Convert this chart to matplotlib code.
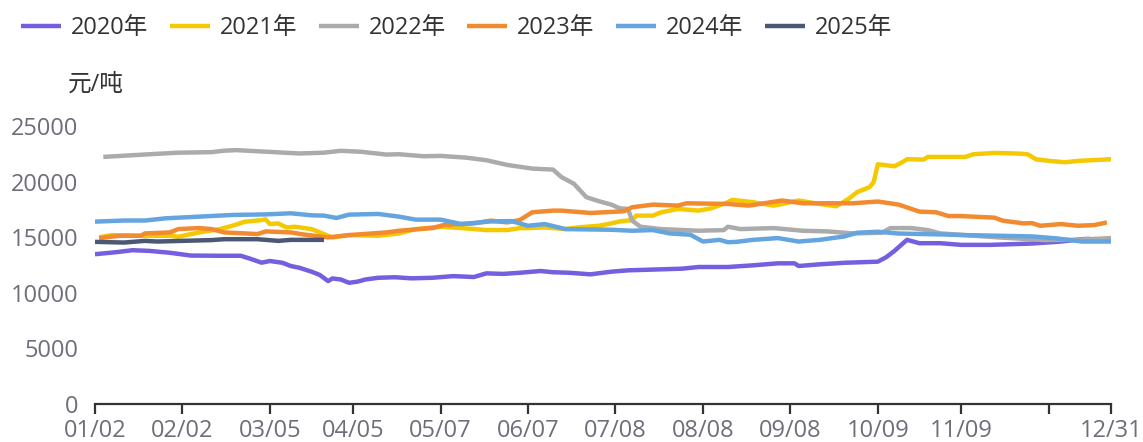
import matplotlib
matplotlib.use("Agg")
import matplotlib.pyplot as plt

plt.rcParams['font.family'] = ['Open Sans', 'Noto Sans CJK SC', 'DejaVu Sans']

# x = trading-day index within the year, y = price (元/吨)
x_2020 = [0, 5, 9, 13, 18, 23, 30, 35, 37, 40, 42, 45, 47, 49, 52, 54, 56, 57, 59, 61, 63, 65, 68, 72, 76,
          81, 86, 91, 94, 98, 102, 107, 110, 114, 119, 124, 128, 135, 141, 145, 152, 158, 164, 168, 169, 174,
          180, 188, 190, 192, 195, 198, 203, 208, 215, 225, 232, 237, 239]
y_2020 = [13470, 13650, 13830, 13770, 13600, 13350, 13330, 13330, 13100, 12710, 12860, 12700, 12410, 12260,
          11900, 11600, 11050, 11290, 11200, 10900, 11000, 11200, 11350, 11400, 11300, 11350, 11500, 11420,
          11750, 11700, 11800, 11960, 11850, 11800, 11660, 11900, 12020, 12100, 12170, 12320, 12320, 12470,
          12650, 12650, 12410, 12560, 12700, 12800, 13200, 13770, 14760, 14460, 14460, 14310, 14310, 14430,
          14610, 14820, 14850]

x_2021 = [1, 4, 11, 18, 20, 25, 30, 33, 36, 40, 41, 42, 44, 46, 48, 52, 55, 57, 61, 68, 73, 77, 83, 88, 94,
          99, 102, 104, 108, 113, 116, 121, 124, 126, 129, 130, 134, 136, 140, 145, 148, 152, 153, 158, 163,
          169, 173, 178, 181, 183, 186, 187, 188, 192, 194, 195, 199, 200, 209, 211, 216, 222, 224, 226, 230,
          233, 236, 244]
y_2021 = [14980, 15190, 15130, 15130, 15040, 15430, 15730, 16030, 16390, 16540, 16600, 16180, 16240, 15880,
          15940, 15730, 15280, 14980, 15190, 15130, 15340, 15730, 15940, 15820, 15640, 15640, 15820, 15820,
          15880, 15730, 15880, 16030, 16240, 16420, 16540, 16940, 16940, 17240, 17540, 17390, 17600, 18150,
          18360, 18150, 17840, 18300, 18050, 17780, 18450, 19050, 19500, 19950, 21560, 21380, 21770, 22010,
          21980, 22220, 22220, 22460, 22580, 22520, 22450, 22000, 21830, 21740, 21860, 22010]

x_2022 = [2, 8, 15, 20, 28, 31, 34, 38, 43, 49, 55, 59, 64, 70, 73, 79, 83, 89, 94, 99, 105, 110, 112, 115,
          118, 121, 124, 126, 128, 129, 131, 136, 145, 151, 152, 155, 163, 170, 176, 182, 189, 191, 196, 200,
          203, 217, 228, 236, 244]
y_2022 = [22220, 22350, 22500, 22600, 22650, 22780, 22830, 22750, 22650, 22530, 22600, 22770, 22680, 22430,
          22460, 22280, 22310, 22160, 21920, 21500, 21170, 21080, 20410, 19810, 18600, 18240, 17930, 17600,
          17540, 16490, 15940, 15730, 15580, 15640, 15940, 15730, 15820, 15580, 15520, 15340, 15400, 15820,
          15820, 15640, 15340, 14980, 14740, 14770, 14920]

x_2023 = [1, 6, 11, 12, 18, 20, 25, 28, 31, 36, 39, 41, 47, 50, 56, 61, 70, 73, 81, 84, 91, 95, 99, 102, 105,
          110, 112, 119, 127, 129, 134, 140, 142, 152, 157, 165, 170, 182, 188, 193, 198, 202, 205, 208, 216,
          218, 223, 225, 227, 232, 236, 240, 243]
y_2023 = [14920, 15130, 15130, 15340, 15430, 15730, 15820, 15730, 15430, 15340, 15280, 15520, 15430, 15250,
          14980, 15190, 15430, 15580, 15820, 16120, 16240, 16490, 16330, 16540, 17240, 17390, 17390, 17180,
          17330, 17690, 17930, 17840, 18050, 17990, 17840, 18300, 18050, 18050, 18210, 17930, 17300, 17240,
          16900, 16900, 16760, 16490, 16240, 16270, 16030, 16180, 16030, 16090, 16330]

x_2024 = [0, 7, 12, 17, 25, 33, 41, 44, 47, 52, 55, 58, 61, 68, 73, 77, 83, 88, 95, 100, 104, 108, 113, 124,
          129, 134, 138, 143, 146, 150, 152, 154, 158, 164, 169, 174, 180, 183, 188, 193, 203, 209, 225, 231,
          237, 244]
y_2024 = [16400, 16500, 16500, 16700, 16850, 17000, 17050, 17100, 17150, 16970, 16940, 16730, 17030, 17090,
          16850, 16580, 16580, 16180, 16420, 16450, 16030, 16180, 15730, 15670, 15580, 15640, 15340, 15220,
          14610, 14760, 14550, 14580, 14760, 14920, 14610, 14760, 15070, 15400, 15490, 15330, 15250, 15190,
          15070, 14890, 14610, 14610]

x_2025 = [0, 7, 12, 15, 28, 31, 39, 44, 47, 51, 55]
y_2025 = [14580, 14520, 14670, 14610, 14740, 14820, 14820, 14670, 14760, 14760, 14760]

tick_pos = [0, 21, 42, 62, 83, 104, 125, 146, 167, 188, 208, 229, 244]
tick_labels = ['01/02', '02/02', '03/05', '04/05', '05/07', '06/07', '07/08', '08/08', '09/08', '10/09',
               '11/09', '', '12/31']

series = [
    ('2020年', x_2020, y_2020, '#735FE0'),
    ('2021年', x_2021, y_2021, '#F5C900'),
    ('2022年', x_2022, y_2022, '#ABABAB'),
    ('2023年', x_2023, y_2023, '#F28A30'),
    ('2024年', x_2024, y_2024, '#64A5E0'),
    ('2025年', x_2025, y_2025, '#4A5874'),
]

fig = plt.figure(figsize=(11.43, 4.42), dpi=100)
ax = fig.add_axes([95 / 1143, 38 / 442, 1016 / 1143, 278 / 442])

for name, xs, ys, c in series:
    ax.plot(xs, ys, color=c, lw=3.2, label=name, solid_capstyle='butt')

ax.set_xlim(0, 244)
ax.set_ylim(0, 25000)
ax.set_yticks([0, 5000, 10000, 15000, 20000, 25000])
ax.set_xticks(tick_pos)
ax.set_xticklabels(tick_labels)

for s in ['top', 'right', 'left']:
    ax.spines[s].set_visible(False)
ax.spines['bottom'].set_color('#333333')
ax.spines['bottom'].set_linewidth(1.6)
ax.tick_params(axis='y', length=0, pad=12, labelsize=17, labelcolor='#6E6E7A')
ax.tick_params(axis='x', length=7, width=1.6, color='#333333', pad=4, labelsize=17, labelcolor='#6E6E7A')

fig.text(68 / 1143, 1 - 85 / 442, '元/吨', fontsize=17, color='#333333', va='center', ha='left')

fig.legend(loc='center left', bbox_to_anchor=(0, 1 - 28 / 442), ncol=6, frameon=False,
           fontsize=17, handlelength=1.7, handletextpad=0.42, columnspacing=0.9, labelcolor='#333333')

plt.savefig('out.png', dpi=100)
